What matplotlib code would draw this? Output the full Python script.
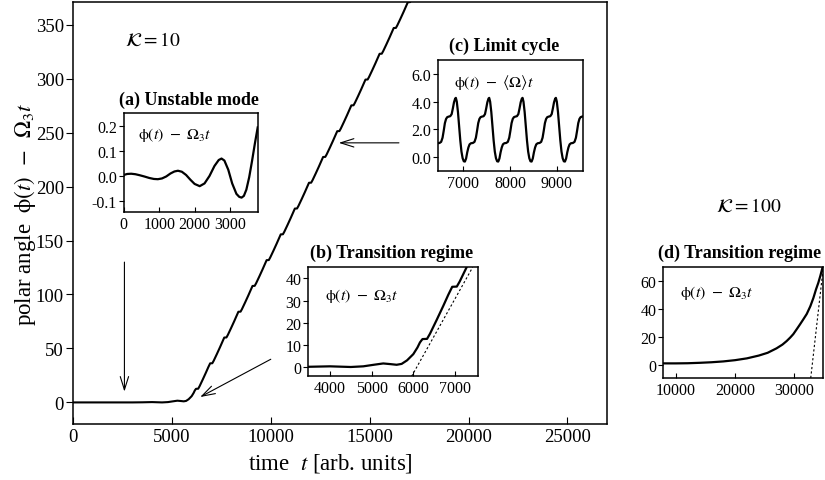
import matplotlib
matplotlib.use('Agg')
import matplotlib.pyplot as plt

plt.rcParams['font.family'] = ['Liberation Serif', 'DejaVu Serif']
plt.rcParams['mathtext.fontset'] = 'stix'

# ---------------- data ----------------
# main curve: quiet phase before the transition
pre_t = [0, 3000, 3500, 4000, 4500, 4800, 5050, 5278, 5450, 5600, 5720, 5850, 6000, 6100, 6160]
pre_v = [0, 0, 0.1, 0.3, 0.0, 0.3, 1.0, 1.6, 1.3, 1.0, 1.4, 3.0, 5.8, 8.8, 11.1]
# main curve: stair plateaus (centre time, value)
plateau_t = [6275, 6989, 7703, 8417, 9131, 9845, 10559, 11273, 11987, 12701,
             13415, 14129, 14843, 15557, 16271, 16985, 17699]
plateau_v = [12.6, 36.2, 60.1, 84.0, 107.9, 131.8, 155.7, 179.6, 203.5, 227.4,
             251.3, 275.2, 299.1, 323.0, 346.9, 370.8, 394.7]
# shape of one stair (offsets from plateau centre)
step_dt = [-55, 55, 125, 285, 445, 565]
step_dv = [0, 0.1, 2.4, 8.6, 15.0, 20.0]

# inset (a) unstable mode
a_t = [0, 100, 210, 330, 450, 580, 720, 850, 963, 1080, 1200, 1320, 1430, 1530, 1640,
       1760, 1880, 2000, 2144, 2280, 2420, 2560, 2680, 2759, 2840, 2950, 3060, 3180,
       3260, 3325, 3390, 3460, 3540, 3620, 3700, 3780]
a_v = [0.004, 0.008, 0.009, 0.007, 0.003, -0.002, -0.008, -0.012, -0.013, -0.010,
       -0.002, 0.010, 0.018, 0.021, 0.017, 0.004, -0.015, -0.032, -0.041, -0.030,
       0.000, 0.040, 0.064, 0.070, 0.062, 0.025, -0.030, -0.072, -0.084, -0.087,
       -0.080, -0.055, -0.005, 0.060, 0.130, 0.195]

# inset (c) limit cycle: one period (offset from minimum) and minima times
cycle_dt = [0, 25, 50, 75, 100, 130, 170, 205, 235, 260, 285, 310, 335, 365, 400,
            430, 455, 480, 505, 520, 540, 565, 590, 615, 640, 665, 690]
cycle_v = [-0.32, -0.1, 0.35, 0.7, 0.92, 1.0, 1.02, 1.1, 1.4, 1.9, 2.45, 2.75, 2.88,
           2.92, 2.95, 3.1, 3.5, 3.95, 4.22, 4.27, 4.0, 3.25, 2.2, 1.2, 0.4, -0.08, -0.3]
cycle_min_t = [6321, 7035, 7749, 8463, 9177]

# dashed asymptotes
b_dash_t = [5960, 7424]
b_dash_v = [-4.2, 45]
d_dash_t = [32770, 34890]
d_dash_v = [-9.5, 70]

# inset (d) K = 100 transition
d_t = [8000, 10000, 12000, 14000, 16000, 18000, 20000, 22000, 24000, 25500, 27000,
       28000, 28700, 29300, 29830, 30400, 30960, 31500, 32100, 32700, 33220, 33650,
       34060, 34400, 34740, 34900]
d_v = [1.0, 1.0, 1.1, 1.4, 1.8, 2.4, 3.3, 4.6, 6.6, 8.6, 11.8, 14.5, 17, 19.5, 22,
       25.5, 29, 32.5, 36.5, 42, 48, 54, 59, 64, 69.5, 72]

# ---------------- build curves ----------------
main_t = list(pre_t)
main_v = list(pre_v)
for pt, pv in zip(plateau_t, plateau_v):
    for dt, dv in zip(step_dt, step_dv):
        main_t.append(pt + dt)
        main_v.append(pv + dv)

c_t, c_v = [], []
for mt in cycle_min_t:
    for dt, v in zip(cycle_dt, cycle_v):
        c_t.append(mt + dt)
        c_v.append(v)

# ---------------- figure ----------------
fig = plt.figure(figsize=(8.25, 4.81), dpi=100)
W, H = 825.0, 481.0


def axes_px(x0, x1, y0, y1):
    return fig.add_axes([x0 / W, 1 - y1 / H, (x1 - x0) / W, (y1 - y0) / H])


def style(ax, fs, tl, lw=1.1):
    for s in ax.spines.values():
        s.set_linewidth(lw)
    ax.tick_params(axis='y', direction='out', length=tl, width=0.8, labelsize=fs, pad=1.5,
                   right=False)
    ax.tick_params(axis='x', direction='in', length=tl, width=0.8, labelsize=fs, pad=3,
                   top=False)


ax = axes_px(73, 607, 3, 425)
ax.plot(main_t, main_v, color='black', lw=1.5)
ax.set_xlim(0, 27000)
ax.set_ylim(-20, 371)
ax.set_xticks([0, 5000, 10000, 15000, 20000, 25000])
ax.set_yticks([0, 50, 100, 150, 200, 250, 300, 350])
style(ax, 13.5, 5)
ax.set_xlabel(r'time  $t$ [arb. units]', fontsize=16.5, labelpad=4)
ax.xaxis.set_label_coords((330 - 73) / 534.0, -0.065)
ax.set_ylabel(r'polar angle  $\mathrm{\phi}(t)$  $-$  $\Omega_3t$', fontsize=16.5)
ax.yaxis.set_label_coords((38 - 73) / 534.0, 0.5)
ax.text(2650, 336, r'$\mathcal{K} = 10$', fontsize=14, va='center', ha='left')

arrow_kw = dict(arrowstyle='->,head_length=0.95,head_width=0.3', color='black', lw=0.8,
                shrinkA=0, shrinkB=0, mutation_scale=10)
ax.annotate('', xy=(2600, 10), xytext=(2600, 130), arrowprops=arrow_kw)
ax.annotate('', xy=(6430, 5), xytext=(10000, 40), arrowprops=arrow_kw)
ax.annotate('', xy=(13440, 240.5), xytext=(16480, 240.5), arrowprops=arrow_kw)

lab = r'$\mathrm{\phi}(t)\ -\ \Omega_3t$'

# inset (a)
axa = axes_px(123.7, 257.7, 114, 213.3)
axa.plot(a_t, a_v, color='black', lw=1.6)
axa.set_xlim(0, 3780)
axa.set_ylim(-0.146, 0.253)
axa.set_xticks([0, 1000, 2000, 3000])
axa.set_yticks([-0.1, 0.0, 0.1, 0.2])
axa.set_yticklabels(['-0.1', '0.0', '0.1', '0.2'])
style(axa, 11.5, 3.5)
axa.text(0.11, 0.79, lab, transform=axa.transAxes, fontsize=11.5, va='center')
fig.text(189.3 / W, 1 - 100 / H, '(a) Unstable mode', fontsize=13, fontweight='bold',
         ha='center', va='center')

# inset (c)
axc = axes_px(438.3, 583.3, 61, 172)
axc.plot(c_t, c_v, color='black', lw=1.6)
axc.set_xlim(6465, 9570)
axc.set_ylim(-1.0, 7.0)
axc.set_xticks([7000, 8000, 9000])
axc.set_yticks([0, 2, 4, 6])
axc.set_yticklabels(['0.0', '2.0', '4.0', '6.0'])
style(axc, 11.5, 3.5)
axc.text(0.108, 0.81, r'$\mathrm{\phi}(t)\ -\ \langle\Omega\rangle t$', transform=axc.transAxes,
         fontsize=11.5, va='center')
fig.text(504.3 / W, 1 - 46.7 / H, '(c) Limit cycle', fontsize=13, fontweight='bold',
         ha='center', va='center')

# inset (b)
axb = axes_px(308.3, 478.3, 268.3, 377.3)
axb.plot(main_t, main_v, color='black', lw=1.6)
axb.plot(b_dash_t, b_dash_v, color='black', lw=0.8, dashes=(2, 2))
axb.set_xlim(3480, 7560)
axb.set_ylim(-4.2, 45)
axb.set_xticks([4000, 5000, 6000, 7000])
axb.set_yticks([0, 10, 20, 30, 40])
style(axb, 11.5, 3.5)
axb.text(0.098, 0.745, lab, transform=axb.transAxes, fontsize=11.5, va='center')
fig.text(391.7 / W, 1 - 253 / H, '(b) Transition regime', fontsize=13, fontweight='bold',
         ha='center', va='center')

# inset (d)
axd = axes_px(663.3, 823, 268.3, 379)
axd.plot(d_t, d_v, color='black', lw=1.6)
axd.plot(d_dash_t, d_dash_v, color='black', lw=0.8, dashes=(2, 2))
axd.set_xlim(7900, 34840)
axd.set_ylim(-9.5, 70)
axd.set_xticks([10000, 20000, 30000])
axd.set_yticks([0, 20, 40, 60])
style(axd, 11.5, 3.5)
axd.text(0.105, 0.774, lab, transform=axd.transAxes, fontsize=11.5, va='center')
fig.text(740 / W, 1 - 253 / H, '(d) Transition regime', fontsize=13, fontweight='bold',
         ha='center', va='center')
fig.text(748.5 / W, 1 - 206.7 / H, r'$\mathcal{K} = 100$', fontsize=14, ha='center',
         va='center')

fig.savefig('out.png', dpi=100)
